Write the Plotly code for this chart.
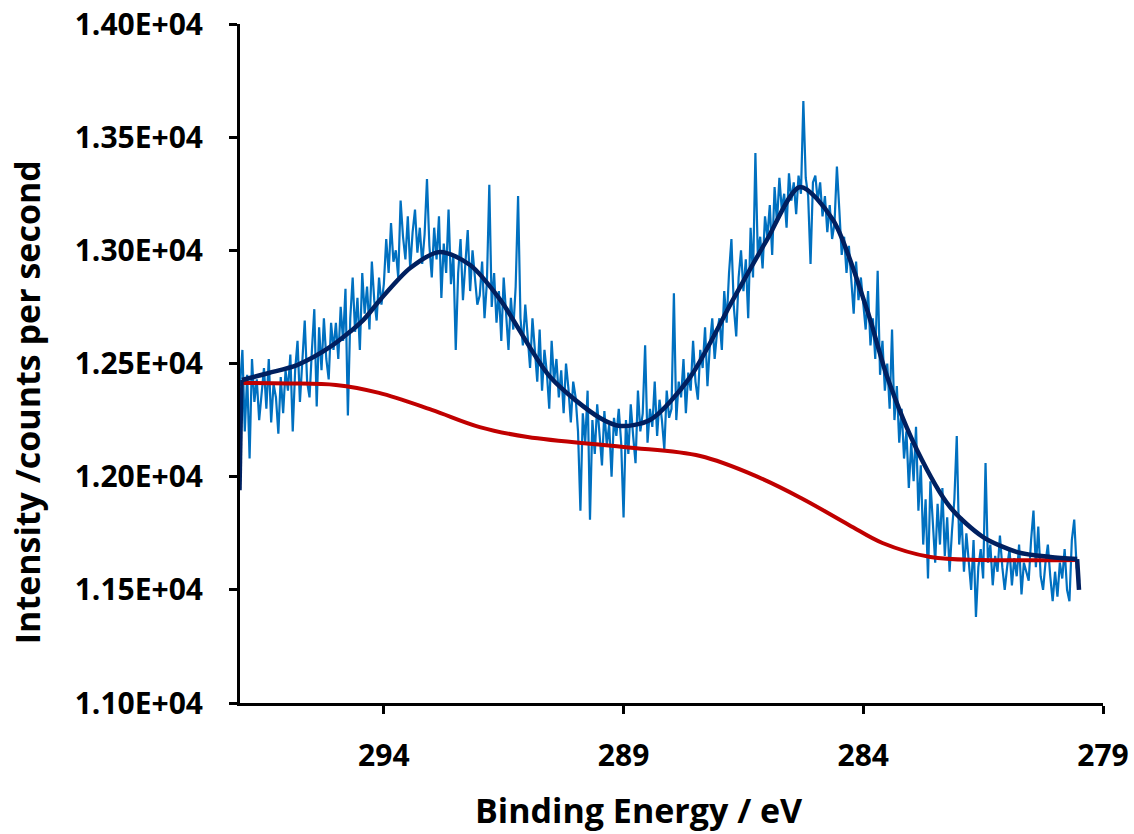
import numpy as np
import plotly.graph_objects as go

# ---------------- data ----------------
# raw spectrum: binding energy from 297.00 eV down to 279.50 eV in 0.05 eV steps
be_start = 297.0
be_step = 0.05
raw_counts = [
    # 297.00 - 296.05
    12400, 12560, 12200, 12450, 12080, 12520, 12330, 12430, 12250, 12380,
    12480, 12300, 12520, 12240, 12410, 12350, 12190, 12440, 12280, 12470,
    # 296.00 - 295.05
    12380, 12540, 12200, 12470, 12600, 12330, 12510, 12690, 12420, 12350,
    12560, 12740, 12310, 12660, 12470, 12700, 12520, 12430, 12680, 12560,
    # 295.00 - 294.05
    12680, 12520, 12750, 12600, 12830, 12270, 12700, 12880, 12640, 12790,
    12560, 12900, 12720, 12840, 12650, 12950, 12780, 12690, 12880, 12760,
    # 294.00 - 293.05
    12850, 13050, 12900, 13120, 12950, 13000, 12880, 13220, 13060, 12960,
    13150, 12920, 13080, 13180, 12990, 13100, 12940, 13070, 13315, 13020,
    # 293.00 - 292.05
    12880, 13100, 12960, 13150, 12790, 13030, 12900, 13180, 12850, 12980,
    12560, 12900, 13050, 12780, 12940, 13090, 12820, 13000, 12880, 12760,
    # 292.00 - 291.05
    12800, 12950, 12700, 12860, 13290, 12750, 12900, 12680, 12820, 12600,
    12880, 12720, 12560, 12790, 12650, 12840, 13240, 12700, 12580, 12760,
    # 291.00 - 290.05
    12620, 12480, 12700, 12540, 12420, 12650, 12380, 12560, 12460, 12300,
    12600, 12420, 12520, 12350, 12470, 12280, 12500, 12390, 12240, 12420,
    # 290.00 - 289.05
    12350, 12200, 11850, 12280, 12150, 12380, 11810, 12250, 12100, 12320,
    12180, 12050, 12290, 12140, 12230, 12000, 12260, 12180, 12300, 12150,
    # 289.00 - 288.05
    11820, 12250, 12100, 12320, 12180, 12060, 12380, 12200, 12280, 12580,
    12150, 12300, 12220, 12420, 12180, 12340, 12250, 12120, 12380, 12260,
    # 288.00 - 287.05
    12300, 12810, 12250, 12420, 12350, 12520, 12280, 12460, 12380, 12600,
    12420, 12340, 12560, 12480, 12660, 12400, 12580, 12700, 12520, 12640,
    # 287.00 - 286.05
    12700, 12560, 12820, 12680, 12900, 13050, 12750, 12620, 12880, 13000,
    12820, 12960, 12700, 13100, 12880, 13430, 12980, 13060, 12920, 13150,
    # 286.00 - 285.05
    13060, 13200, 12980, 13280, 13120, 13320, 13180, 13250, 13100, 13340,
    13220, 13300, 13160, 13330, 13250, 13660, 13320, 13240, 12940, 13300,
    # 285.00 - 284.05
    13330, 13220, 13300, 13150, 13240, 13080, 13200, 13050, 13120, 13370,
    13180, 12980, 13060, 12900, 13020, 12850, 12720, 12950, 12780, 12880,
    # 284.00 - 283.05
    12760, 12650, 12820, 12580, 12700, 12520, 12910, 12450, 12600, 12380,
    12500, 12300, 12650, 12250, 12400, 12150, 12300, 12080, 12200, 11950,
    # 283.00 - 282.05
    12150, 11980, 12220, 11850, 12050, 11700, 11900, 11550, 11980, 11800,
    11620, 11880, 11700, 11950, 11650, 11820, 11580, 11760, 11900, 12180,
    # 282.00 - 281.05
    11700, 11820, 11580, 11750, 11640, 11500, 11720, 11380, 11600, 11680,
    11550, 12060, 11620, 11700, 11520, 11650, 11580, 11740, 11600, 11500,
    # 281.00 - 280.05
    11600, 11680, 11520, 11640, 11560, 11700, 11480, 11620, 11580, 11540,
    11720, 11850, 11600, 11780, 11560, 11500, 11620, 11700, 11560, 11450,
    # 280.00 - 279.50
    11580, 11470, 11620, 11550, 11680, 11500, 11450, 11720, 11810, 11600,
    11540,
]
raw_be = [round(be_start - be_step * i, 2) for i in range(len(raw_counts))]

# fitted envelope (sum of components + background)
env_be = [296.96, 296.40, 295.81, 295.12, 294.43, 294.08, 293.45, 292.83,
          292.20, 291.57, 290.53, 289.49, 289.07, 288.45, 287.61, 286.72,
          286.01, 285.32, 284.63, 283.92, 283.50, 282.88, 282.19, 281.50,
          280.79, 280.10, 279.54]
env_counts = [12427, 12458, 12493, 12573, 12692, 12781, 12922, 12993,
              12935, 12781, 12440, 12259, 12224, 12250, 12440, 12781,
              13046, 13280, 13134, 12736, 12440, 12118, 11866, 11733,
              11667, 11645, 11636]
# envelope end artefacts (sharp drops at both ends)
env_start_drop = (297.00, 11940)
env_end_drop = (279.50, 11500)

# Shirley-type background
bg_be = [296.96, 296.0, 295.0, 294.1, 293.0, 292.0, 291.0, 289.0, 287.4,
         286.2, 285.3, 284.3, 283.6, 282.6, 281.5, 279.54]
bg_counts = [12414, 12412, 12405, 12370, 12295, 12219, 12175, 12131, 12091,
             11999, 11906, 11787, 11707, 11645, 11632, 11632]

x_ticks = [294, 289, 284, 279]
y_tickvals = [11000, 11500, 12000, 12500, 13000, 13500, 14000]
y_ticktext = ["1.10E+04", "1.15E+04", "1.20E+04", "1.25E+04",
              "1.30E+04", "1.35E+04", "1.40E+04"]

# ---------------- figure ----------------
FONT = "Open Sans"
NAVY = "#002060"
fig = go.Figure()
fig.add_trace(go.Scatter(x=raw_be, y=raw_counts, mode="lines",
                         line=dict(color="#0070C0", width=2.2),
                         showlegend=False))
fig.add_trace(go.Scatter(x=bg_be, y=bg_counts, mode="lines",
                         line=dict(color="#C00000", width=4, shape="spline", smoothing=1.0),
                         showlegend=False))
fig.add_trace(go.Scatter(x=env_be, y=env_counts, mode="lines",
                         line=dict(color=NAVY, width=4.5, shape="spline", smoothing=0.8),
                         showlegend=False))
fig.add_trace(go.Scatter(x=[env_start_drop[0], env_be[0]],
                         y=[env_start_drop[1], env_counts[0]], mode="lines",
                         line=dict(color=NAVY, width=3.5), showlegend=False))
fig.add_trace(go.Scatter(x=[env_be[-1], env_end_drop[0]],
                         y=[env_counts[-1], env_end_drop[1]], mode="lines",
                         line=dict(color=NAVY, width=4.5), showlegend=False))

axis_common = dict(showline=True, linecolor="black", linewidth=3,
                   ticks="outside", ticklen=8, tickwidth=3, tickcolor="black",
                   showgrid=False, zeroline=False, automargin=False,
                   tickfont=dict(family=FONT, size=30, color="black", weight="bold"))

fig.update_xaxes(range=[297, 279], tickvals=x_ticks,
                 ticktext=[str(v) for v in x_ticks],
                 ticklabelstandoff=16, **axis_common)
fig.update_yaxes(range=[11000, 14000], tickvals=y_tickvals, ticktext=y_ticktext,
                 ticklabelstandoff=20, **axis_common)

fig.add_annotation(text="Binding Energy / eV", xref="paper", yref="paper",
                   x=0.462, y=-0.157, xanchor="center", yanchor="middle",
                   showarrow=False,
                   font=dict(family=FONT, size=34, color="black", weight="bold"))
fig.add_annotation(text="Intensity /counts per second", xref="paper", yref="paper",
                   x=-0.2468, y=0.443, xanchor="center", yanchor="middle",
                   textangle=-90, showarrow=False,
                   font=dict(family=FONT, size=34, color="black", weight="bold"))

fig.update_layout(width=1134, height=834,
                  margin=dict(l=240, r=31, t=24, b=131),
                  plot_bgcolor="white", paper_bgcolor="white")

fig.write_html("out.html")
